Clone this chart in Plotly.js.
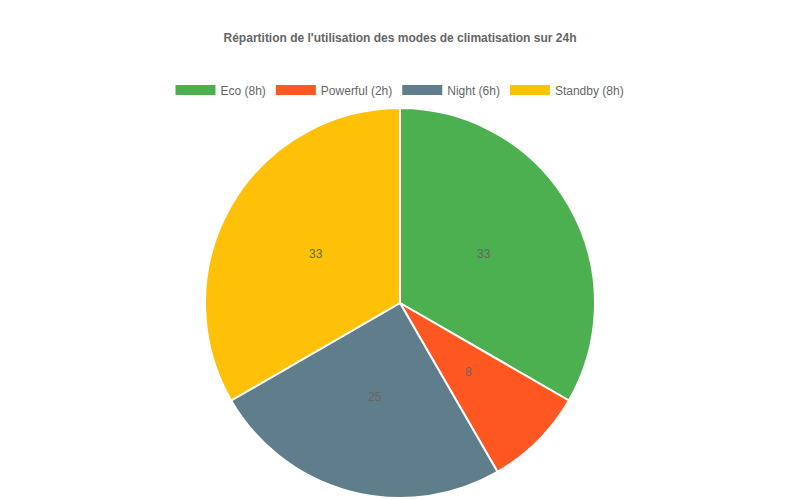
<!DOCTYPE html>
<html>
<head>
<meta charset="utf-8">
<script src="https://cdn.plot.ly/plotly-3.0.1.min.js"></script>
<style>body{margin:0;background:#fff}#chart{width:800px;height:500px}</style>
</head>
<body>
<div id="chart"></div>
<script>
var modes = ["Eco (8h)", "Powerful (2h)", "Night (6h)", "Standby (8h)"];
var hours = [8, 2, 6, 8];
var colors = ["#4CAF50", "#FF5722", "#607D8B", "#FFC107"];

var FONT = "Liberation Sans, Arial, sans-serif";
var W = 800, H = 500;
var M = { t: 108, b: 2, l: 100, r: 100 };

var total = hours.reduce((a, b) => a + b, 0);
var pctLabels = hours.map(h => String(Math.round(h / total * 100)));

var data = [{
    type: "pie",
    labels: modes,
    values: hours,
    textinfo: "none",
    sort: false,
    direction: "clockwise",
    rotation: 0,
    showlegend: false,
    marker: { colors: colors, line: { color: "#fff", width: 2 } },
    hoverinfo: "label+value"
}];

// legend entries as wide colour bars
modes.forEach((m, i) => {
    data.push({
        type: "scatter",
        mode: "lines",
        x: [null], y: [null],
        name: m,
        line: { color: colors[i], width: 12 },
        hoverinfo: "skip"
    });
});

// percentage labels at half radius on each slice bisector
var plotW = W - M.l - M.r, plotH = H - M.t - M.b;
var R = Math.min(plotW, plotH) / 2;
var annotations = [];
var cum = 0;
hours.forEach((h, i) => {
    var mid = (cum + h / 2) / total * 2 * Math.PI;
    cum += h;
    annotations.push({
        xref: "paper", yref: "paper",
        x: 0.5 + 0.5 * R * Math.sin(mid) / plotW,
        y: 0.5 + 0.5 * R * Math.cos(mid) / plotH,
        xanchor: "center", yanchor: "middle",
        text: pctLabels[i],
        showarrow: false,
        font: { color: "#666", size: 12, family: FONT }
    });
});

var layout = {
    width: W,
    height: H,
    margin: M,
    title: {
        text: "<b>Répartition de l'utilisation des modes de climatisation sur 24h</b>",
        font: { size: 12, color: "#666", family: FONT },
        x: 0.5, xanchor: "center",
        y: 1 - 38 / H, yanchor: "middle", yref: "container"
    },
    showlegend: true,
    legend: {
        orientation: "h",
        x: 0.5, xanchor: "center",
        y: 1 - 90 / H, yanchor: "middle", yref: "container",
        font: { size: 12, color: "#666", family: FONT },
        traceorder: "normal",
        itemwidth: 40
    },
    xaxis: { visible: false },
    yaxis: { visible: false },
    annotations: annotations,
    font: { family: FONT, color: "#666" },
    paper_bgcolor: "#fff",
    plot_bgcolor: "rgba(0,0,0,0)"
};

Plotly.newPlot("chart", data, layout, { displayModeBar: false });
</script>
</body>
</html>
